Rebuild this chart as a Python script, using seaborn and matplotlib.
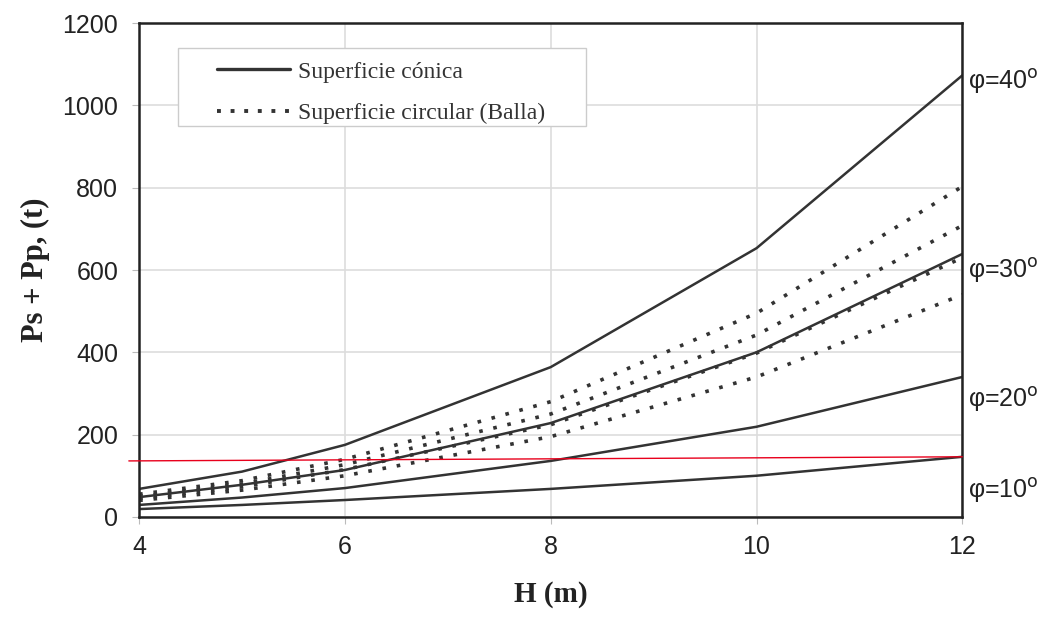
import numpy as np
import pandas as pd
import matplotlib
matplotlib.use("Agg")
import matplotlib.pyplot as plt
import seaborn as sns
from matplotlib.lines import Line2D
from matplotlib.patches import Rectangle

# ---- data ----
H = [4, 5, 6, 8, 10, 12]
conica_40 = [68, 110, 175, 364, 653, 1073]
conica_30 = [48, 78, 114, 228, 400, 639]
conica_20 = [29, 47, 70, 136, 219, 340]
conica_10 = [19, 29, 41, 68, 100, 146]
balla_a = [55, 88, 140, 280, 495, 803]
balla_b = [50, 80, 127, 250, 442, 708]
balla_c = [45, 73, 115, 224, 398, 630]
balla_d = [40, 65, 100, 195, 340, 540]
red_x = [3.9, 12]
red_y = [136, 146]
phi_labels = ["φ=40", "φ=30", "φ=20", "φ=10"]
phi_label_y = [1058, 598, 285, 65]
x_ticks = [4, 6, 8, 10, 12]
y_ticks = [0, 200, 400, 600, 800, 1000, 1200]

rows = []
for name, vals in [("c40", conica_40), ("c30", conica_30), ("c20", conica_20), ("c10", conica_10)]:
    for h, v in zip(H, vals):
        rows.append(dict(H=h, P=v, serie=name, tipo="Superficie cónica"))
for name, vals in [("ba", balla_a), ("bb", balla_b), ("bc", balla_c), ("bd", balla_d)]:
    for h, v in zip(H, vals):
        rows.append(dict(H=h, P=v, serie=name, tipo="Superficie circular (Balla)"))
df = pd.DataFrame(rows)

sns.set_theme(style="whitegrid")
plt.rcParams['font.family'] = ['Liberation Sans', 'DejaVu Sans']

W, Hpx = 1046, 625
fig = plt.figure(figsize=(W / 100, Hpx / 100), dpi=100)
ax = fig.add_axes([0.133, 0.173, 0.787, 0.79])

line_col = "#333333"
for name in ["c40", "c30", "c20", "c10"]:
    sub = df[df.serie == name]
    sns.lineplot(data=sub, x="H", y="P", ax=ax, color=line_col, lw=1.8, estimator=None)
for name in ["ba", "bb", "bc", "bd"]:
    sub = df[df.serie == name]
    sns.lineplot(data=sub, x="H", y="P", ax=ax, color=line_col, lw=2.6, estimator=None,
                 linestyle=(0, (1, 3)))

ax.plot(red_x, red_y, color="#e8001c", lw=1.0, clip_on=False, zorder=5)

ax.set_xlim(4, 12)
ax.set_ylim(0, 1200)
ax.set_xticks(x_ticks)
ax.set_yticks(y_ticks)
ax.tick_params(axis="both", labelsize=18, colors="#222222", length=5, width=0.8,
               direction="out")
ax.tick_params(axis="x", pad=8)
ax.tick_params(axis="y", pad=10)
for lab in ax.get_xticklabels() + ax.get_yticklabels():
    lab.set_color("#222222")
ax.tick_params(axis="both", which="both", color="#bbbbbb", bottom=True, left=True)
ax.grid(True, color="#dddddd", lw=1.2)
for s in ax.spines.values():
    s.set_visible(True)
    s.set_color("#222222")
    s.set_linewidth(1.8)

ax.set_xlabel("H (m)", family=["Liberation Serif"], fontweight="bold", fontsize=21,
              color="#222222", labelpad=16)
ax.set_ylabel("Ps + Pp, (t)", family=["Liberation Serif"], fontweight="bold", fontsize=22,
              color="#222222", labelpad=9)

for lab, yv in zip(phi_labels, phi_label_y):
    ax.text(12.06, yv, lab + r"$^{\mathrm{o}}$", fontsize=18, color="#222222",
            va="center", ha="left", clip_on=False)

# legend frame (drawn separately for asymmetric padding as in the reference)
frame = Rectangle((178 / W, 1 - 126 / Hpx), (586 - 178) / W, (126 - 48) / Hpx,
                  transform=fig.transFigure, facecolor="white", edgecolor="#cccccc",
                  lw=1.0, zorder=6, clip_on=False)
ax.add_patch(frame)

handles = [Line2D([0], [0], color=line_col, lw=2.4),
           Line2D([0], [0], color=line_col, lw=2.8, linestyle=(0, (1, 2.5)))]
leg = ax.legend(handles, ["Superficie cónica", "Superficie circular (Balla)"],
                loc="upper left", bbox_to_anchor=(217 / W, 1 - 61 / Hpx),
                bbox_transform=fig.transFigure, frameon=False,
                prop={"family": "Liberation Serif", "size": 17},
                handlelength=3.1, handletextpad=0.35, borderpad=0, labelspacing=0.85,
                borderaxespad=0)
leg.set_zorder(7)
for t in leg.get_texts():
    t.set_color("#333333")

fig.savefig("out.png", dpi=100)
